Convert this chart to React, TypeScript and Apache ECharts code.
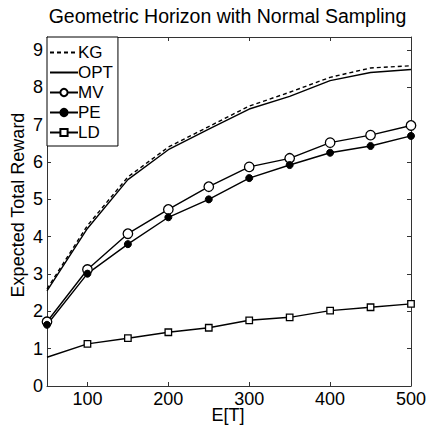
import React, { useEffect, useRef } from "react";
import * as echarts from "echarts";

const titleText = "Geometric Horizon with Normal Sampling";
const yAxisTitle = "Expected Total Reward";
const xAxisTitle = "E[T]";
const xValues = [50, 100, 150, 200, 250, 300, 350, 400, 450, 500];
const kgValues = [2.6, 4.3, 5.6, 6.4, 6.95, 7.5, 7.87, 8.27, 8.52, 8.58];
const optValues = [2.55, 4.22, 5.53, 6.33, 6.88, 7.42, 7.76, 8.18, 8.4, 8.48];
const mvValues = [1.72, 3.12, 4.08, 4.73, 5.34, 5.87, 6.1, 6.52, 6.72, 6.98];
const peValues = [1.64, 3.01, 3.8, 4.52, 5.0, 5.57, 5.92, 6.25, 6.43, 6.7];
const ldValues = [0.77, 1.13, 1.28, 1.44, 1.56, 1.76, 1.84, 2.02, 2.11, 2.2];
const xTicks = [100, 200, 300, 400, 500];
const yTicks = [0, 1, 2, 3, 4, 5, 6, 7, 8, 9];

const FONT = "Liberation Sans, Arial, Helvetica, sans-serif";

export default function App() {
  const ref = useRef<HTMLDivElement>(null);
  useEffect(() => {
    if (!ref.current) return;
    const chart = echarts.init(ref.current, null, { renderer: "svg" });
    const pairs = (vals: number[]) => xValues.map((x, i) => [x, vals[i]]);
    const frame = "#333";
    const baseX = {
      type: "value",
      min: 50,
      max: 500,
      splitLine: { show: false },
      axisLine: { show: true, onZero: false, lineStyle: { color: frame, width: 1 } },
      axisTick: { show: true, inside: true, length: 4, customValues: xTicks, lineStyle: { color: frame } },
    };
    const baseY = {
      type: "value",
      min: 0,
      max: 9.35,
      splitLine: { show: false },
      axisLine: { show: true, onZero: false, lineStyle: { color: frame, width: 1 } },
      axisTick: { show: true, inside: true, length: 4, customValues: yTicks, lineStyle: { color: frame } },
    };
    const lineCommon = {
      type: "line",
      color: "#000",
      lineStyle: { color: "#000", width: 1.4 },
      itemStyle: { color: "#000", borderColor: "#000", borderWidth: 1.2 },
      xAxisIndex: 0,
      yAxisIndex: 0,
    };
    const hideSym = { opacity: 0 };
    chart.setOption({
      animation: false,
      backgroundColor: "#fff",
      textStyle: { fontFamily: FONT },
      graphic: [
        {
          type: "text",
          x: 227.5,
          y: 15.5,
          style: {
            text: titleText,
            font: `19.5px ${FONT}`,
            fill: "#000",
            textAlign: "center",
            textVerticalAlign: "middle",
          },
        },
        {
          type: "text",
          x: 18,
          y: 205,
          rotation: Math.PI / 2,
          style: {
            text: yAxisTitle,
            font: `18px ${FONT}`,
            fill: "#000",
            textAlign: "center",
            textVerticalAlign: "middle",
          },
        },
        {
          type: "text",
          x: 228,
          y: 415,
          style: {
            text: xAxisTitle,
            font: `18px ${FONT}`,
            fill: "#000",
            textAlign: "center",
            textVerticalAlign: "middle",
          },
        },
      ],
      grid: { left: 47, right: 18, top: 37, bottom: 40, outerBoundsMode: "none", containLabel: false },
      legend: {
        orient: "vertical",
        left: 47,
        top: 37,
        itemWidth: 28,
        itemHeight: 9,
        itemGap: 3,
        padding: [7, 5, 5, 2],
        borderColor: "#000",
        borderWidth: 1,
        backgroundColor: "#fff",
        textStyle: { fontSize: 17, color: "#000", fontFamily: FONT, padding: [0, 0, 0, -5] },
        data: [
          { name: "KG", itemStyle: hideSym },
          { name: "OPT", itemStyle: hideSym },
          "MV",
          "PE",
          "LD",
        ],
      },
      xAxis: [
        {
          ...baseX,
          position: "bottom",
          axisLabel: { show: true, customValues: xTicks, fontSize: 18, color: "#000", fontFamily: FONT, margin: 4 },
        },
        { ...baseX, position: "top", axisLabel: { show: false } },
      ],
      yAxis: [
        {
          ...baseY,
          position: "left",
          axisLabel: { show: true, customValues: yTicks, fontSize: 18, color: "#000", fontFamily: FONT, margin: 4 },
        },
        { ...baseY, position: "right", axisLabel: { show: false } },
      ],
      series: [
        {
          ...lineCommon,
          name: "KG",
          data: pairs(kgValues),
          symbol: "none",
          lineStyle: { color: "#000", width: 1.4, type: [4, 3] },
          z: 3,
        },
        { ...lineCommon, name: "OPT", data: pairs(optValues), symbol: "none", z: 2 },
        {
          ...lineCommon,
          name: "MV",
          data: pairs(mvValues),
          symbol: "circle",
          symbolSize: 9.5,
          itemStyle: { color: "#fff", borderColor: "#000", borderWidth: 1.3 },
        },
        {
          ...lineCommon,
          name: "PE",
          data: pairs(peValues),
          symbol: "circle",
          symbolSize: 7,
          itemStyle: { color: "#000", borderColor: "#000", borderWidth: 1 },
        },
        {
          ...lineCommon,
          name: "LD",
          data: xValues.map((x, i) =>
            i === 0 ? { value: [x, ldValues[i]], symbol: "none" } : [x, ldValues[i]]
          ),
          symbol: "rect",
          symbolSize: 6.5,
          itemStyle: { color: "#fff", borderColor: "#000", borderWidth: 1.3 },
        },
      ],
    });
    return () => chart.dispose();
  }, []);
  return (
    <div
      ref={ref}
      style={{ position: "fixed", left: 0, top: 0, width: 429, height: 426 }}
    />
  );
}
